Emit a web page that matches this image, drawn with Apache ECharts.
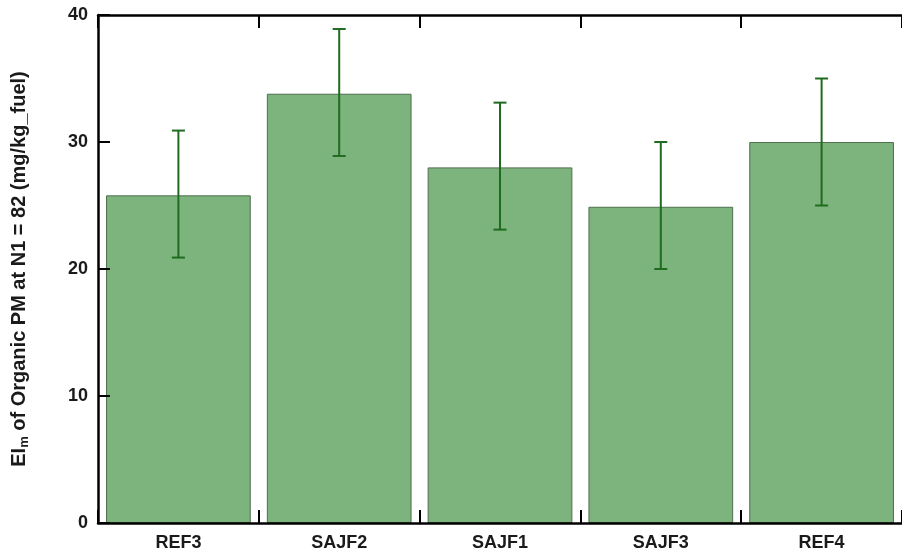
<!DOCTYPE html>
<html>
<head>
<meta charset="utf-8">
<script src="https://cdn.jsdelivr.net/npm/echarts@6/dist/echarts.min.js"></script>
<style>
  html, body { margin: 0; padding: 0; background: #ffffff; }
  #chart { width: 902px; height: 556px; }
</style>
</head>
<body>
<div id="chart"></div>
<script>
// Fuel blends on the x axis
const categories = ['REF3', 'SAJF2', 'SAJF1', 'SAJF3', 'REF4'];
// Organic PM emission index (mg/kg_fuel)
const emission = [25.8, 33.8, 28.0, 24.9, 30.0];
// Error bar ends
const errLower = [20.9, 28.9, 23.1, 20.0, 25.0];
const errUpper = [30.9, 38.9, 33.1, 30.0, 35.0];
// Y axis ticks
const yTicks = [0, 10, 20, 30, 40];

const errData = categories.map((c, i) => [i, errLower[i], errUpper[i]]);

const labelFont = {
  fontFamily: 'Liberation Sans, Arial, sans-serif',
  fontWeight: 'bold',
  fontSize: 18,
  color: '#1a1a1a'
};

const tickStyle = { show: true, inside: true, length: 13, lineStyle: { color: '#000', width: 2 } };

const chart = echarts.init(document.getElementById('chart'));

chart.setOption({
  animation: false,
  backgroundColor: '#ffffff',
  grid: { left: 98, right: -4, top: 15, bottom: 33 },
  xAxis: [
    {
      type: 'category',
      data: categories,
      position: 'bottom',
      z: 5,
      axisLine: { lineStyle: { color: '#000', width: 2.5 } },
      axisTick: tickStyle,
      axisLabel: Object.assign({ margin: 11 }, labelFont)
    },
    {
      type: 'category',
      data: categories,
      position: 'top',
      z: 5,
      axisLine: { lineStyle: { color: '#000', width: 2.5 } },
      axisTick: tickStyle,
      axisLabel: { show: false }
    }
  ],
  yAxis: {
    type: 'value',
    min: yTicks[0],
    max: yTicks[yTicks.length - 1],
    interval: yTicks[1] - yTicks[0],
    z: 5,
    axisLine: { show: true, lineStyle: { color: '#000', width: 2.5 } },
    axisTick: { show: true, inside: true, length: 12, lineStyle: { color: '#000', width: 2 } },
    splitLine: { show: false },
    axisLabel: Object.assign({ margin: 10 }, labelFont),
    name: '{a|EI}{b|m}{a| of Organic PM at N1 = 82 (mg/kg_fuel)}',
    nameLocation: 'middle',
    nameGap: 67,
    nameRotate: 90,
    nameTextStyle: {
      rich: {
        a: {
          fontFamily: 'Liberation Sans, Arial, sans-serif',
          fontWeight: 'bold',
          fontSize: 20,
          color: '#1a1a1a',
          lineHeight: 24,
          verticalAlign: 'middle'
        },
        b: {
          fontFamily: 'Liberation Sans, Arial, sans-serif',
          fontWeight: 'bold',
          fontSize: 13,
          color: '#1a1a1a',
          lineHeight: 24,
          verticalAlign: 'bottom'
        }
      }
    }
  },
  series: [
    {
      type: 'bar',
      data: emission,
      barWidth: '90%',
      itemStyle: {
        color: '#7db37c',
        borderColor: '#4f6f4f',
        borderWidth: 1
      },
      z: 2
    },
    {
      type: 'custom',
      data: errData,
      encode: { x: 0, y: [1, 2] },
      z: 3,
      renderItem: function (params, api) {
        const i = api.value(0);
        const lo = api.coord([i, api.value(1)]);
        const hi = api.coord([i, api.value(2)]);
        const cap = 6.5;
        const style = { stroke: '#1f6b1f', lineWidth: 2, fill: null };
        return {
          type: 'group',
          children: [
            { type: 'line', shape: { x1: lo[0], y1: lo[1], x2: hi[0], y2: hi[1] }, style: style },
            { type: 'line', shape: { x1: hi[0] - cap, y1: hi[1], x2: hi[0] + cap, y2: hi[1] }, style: style },
            { type: 'line', shape: { x1: lo[0] - cap, y1: lo[1], x2: lo[0] + cap, y2: lo[1] }, style: style }
          ]
        };
      }
    }
  ]
});
</script>
</body>
</html>
